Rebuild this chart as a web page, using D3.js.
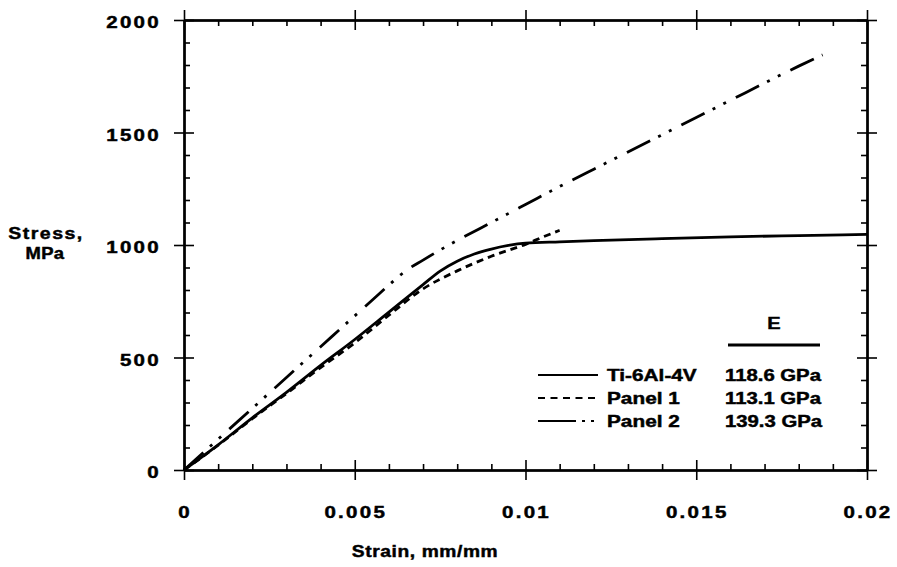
<!DOCTYPE html>
<html>
<head>
<meta charset="utf-8">
<script src="https://cdn.jsdelivr.net/npm/d3@7"></script>
<style>
  body { margin: 0; background: #fff; }
  svg text { font-family: "Liberation Sans", Arial, sans-serif; font-weight: bold; fill: #000; stroke: #000; stroke-width: 0.45px; }
</style>
</head>
<body>
<svg id="chart" width="897" height="567"></svg>
<script>
// strain (mm/mm) vs stress (MPa)
const tiStrain = [0, 0.001, 0.002, 0.003, 0.004, 0.005, 0.006, 0.007, 0.0075, 0.008, 0.0085, 0.009, 0.0095, 0.01, 0.011, 0.012, 0.014, 0.016, 0.018, 0.02];
const tiStress = [0, 112, 232, 345, 465, 580, 702, 824, 884, 928, 960, 982, 998, 1008, 1014, 1019, 1028, 1036, 1042, 1047];

const p1Strain = [0, 0.001, 0.002, 0.003, 0.004, 0.005, 0.006, 0.007, 0.008, 0.009, 0.01, 0.0105, 0.011];
const p1Stress = [0, 110, 228, 340, 455, 565, 688, 805, 885, 950, 1003, 1035, 1065];

const p2Strain = [0, 0.001, 0.002, 0.003, 0.004, 0.005, 0.0055, 0.006, 0.0065, 0.007, 0.0075, 0.008, 0.009, 0.01, 0.011, 0.012, 0.013, 0.014, 0.015, 0.016, 0.017, 0.018, 0.0187];
const p2Stress = [0, 137, 274, 411, 548, 685, 753, 822, 886, 933, 978, 1020, 1100, 1180, 1260, 1337, 1413, 1490, 1567, 1643, 1720, 1795, 1845];

const seriesNames = ["Ti-6Al-4V", "Panel 1", "Panel 2"];
const modulus = ["118.6 GPa", "113.1 GPa", "139.3 GPa"];

const xMajor = [0, 0.005, 0.01, 0.015, 0.02];
const xLabels = ["0", "0.005", "0.01", "0.015", "0.02"];
const yMajor = [0, 500, 1000, 1500, 2000];
const yLabels = ["0", "500", "1000", "1500", "2000"];

const svg = d3.select("#chart");
const margin = {left: 184, right: 30, top: 20, bottom: 97};
const W = 897, H = 567;

const x = d3.scaleLinear().domain([0, 0.02]).range([margin.left, W - margin.right]);
const y = d3.scaleLinear().domain([0, 2000]).range([H - margin.bottom, margin.top]);

const xMinor = d3.range(0, 21).map(i => i * 0.001).filter((d, i) => i % 5 !== 0);
const yMinor = d3.range(0, 21).map(i => i * 100).filter((d, i) => i % 5 !== 0);

// axes: major ticks cross the frame, minor ticks point inward
function drawAxis(axisFn, scale, transform, majors, minors) {
  const parts = [[majors, 10], [majors, -10], [minors, -6]];
  parts.forEach(([vals, size]) => {
    const g = svg.append("g").attr("transform", transform);
    g.call(axisFn(scale).tickValues(vals).tickSize(size).tickSizeOuter(0).tickFormat(() => ""));
    g.select(".domain").attr("stroke", "#000").attr("stroke-width", 2);
    g.selectAll(".tick line").attr("stroke", "#000").attr("stroke-width", 1.6);
  });
}
drawAxis(d3.axisBottom, x, `translate(0,${y(0)})`, xMajor, xMinor);
drawAxis(d3.axisTop, x, `translate(0,${y(2000)})`, xMajor, xMinor);
drawAxis(d3.axisLeft, y, `translate(${x(0)},0)`, yMajor, yMinor);
drawAxis(d3.axisRight, y, `translate(${x(0.02)},0)`, yMajor, yMinor);

// horizontally stretched bold text like the scanned figure
function label(tx, ty, str, anchor, sx, spacing, size) {
  return svg.append("text")
    .attr("transform", `translate(${tx},${ty}) scale(${sx},1)`)
    .attr("text-anchor", anchor)
    .attr("font-size", size || 16)
    .style("letter-spacing", (spacing || 0) + "px")
    .text(str);
}

xMajor.forEach((d, i) => label(x(d) + 1, 518, xLabels[i], "middle", 1.28, 1.8));
yMajor.forEach((d, i) => label(161, y(d) + 8, yLabels[i], "end", 1.28, 1.8));

label(425, 557, "Strain,  mm/mm", "middle", 1.2, 0.5);
label(46, 239, "Stress,", "middle", 1.22, 1.2);
label(45, 259, "MPa", "middle", 1.15, 0.3);

// curves
const line = d3.line().x(d => x(d[0])).y(d => y(d[1])).curve(d3.curveMonotoneX);
const styles = [
  {dash: null, legendDash: null},
  {dash: "7,5", legendDash: "7,5.5"},
  {dash: "26,9,3,9,3,11", legendDash: "38,6,3,6,3,6,3,20"}
];
const curves = [
  d3.zip(tiStrain, tiStress),
  d3.zip(p1Strain, p1Stress),
  d3.zip(p2Strain, p2Stress)
];

svg.append("g").selectAll("path")
  .data(curves)
  .join("path")
  .attr("d", line)
  .attr("fill", "none")
  .attr("stroke", "#000")
  .attr("stroke-width", 2.8)
  .attr("stroke-dasharray", (d, i) => styles[i].dash);

// legend
const rowY = [375, 398, 421];
seriesNames.forEach((name, i) => {
  svg.append("line")
    .attr("x1", 538).attr("x2", 598)
    .attr("y1", rowY[i]).attr("y2", rowY[i])
    .attr("stroke", "#000").attr("stroke-width", 2)
    .attr("stroke-dasharray", styles[i].legendDash);
  label(607, rowY[i] + 6, name, "start", 1.3, 0);
  label(725, rowY[i] + 6, modulus[i], "start", 1.27, 0);
});
label(774, 329, "E", "middle", 1.25, 0);
svg.append("line")
  .attr("x1", 728).attr("x2", 820)
  .attr("y1", 345).attr("y2", 345)
  .attr("stroke", "#000").attr("stroke-width", 3);
</script>
</body>
</html>
